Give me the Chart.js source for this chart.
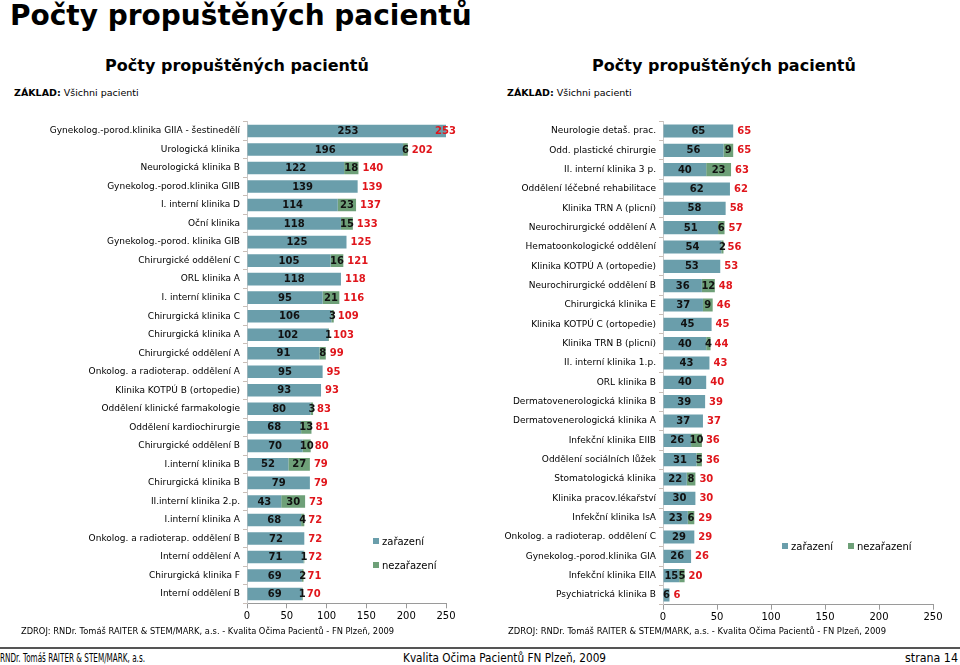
<!DOCTYPE html>
<html>
<head>
<meta charset="utf-8">
<script src="https://cdn.jsdelivr.net/npm/chart.js@4.4.0/dist/chart.umd.min.js"></script>
<style>
body { margin: 0; width: 960px; height: 665px; position: relative; background: #fff; overflow: hidden;
       font-family: "DejaVu Sans", Verdana, sans-serif; color: #000; }
.t { position: absolute; white-space: nowrap; line-height: 1; }
.fit { transform-origin: 0 50%; }
canvas { position: absolute; }
.sw { display: inline-block; width: 6px; height: 6px; margin-right: 3px; vertical-align: 1px; }
</style>
</head>
<body>

<div class="t" style="left:10px;top:2px;font-size:28px;font-weight:bold;">Počty propuštěných pacientů</div>

<div class="t" style="left:237px;top:58px;font-size:16px;font-weight:bold;transform:translateX(-50%);">Počty propuštěných pacientů</div>
<div class="t" style="left:724px;top:58px;font-size:16px;font-weight:bold;transform:translateX(-50%);">Počty propuštěných pacientů</div>
<div class="t" style="left:14px;top:88px;font-size:9.5px;"><b>ZÁKLAD:</b> Všichni pacienti</div>
<div class="t" style="left:507px;top:88px;font-size:9.5px;"><b>ZÁKLAD:</b> Všichni pacienti</div>

<canvas id="leftChart" width="490" height="520" style="left:0;top:110px;"></canvas>
<canvas id="rightChart" width="480" height="520" style="left:480px;top:110px;"></canvas>

<div class="t" style="left:373px;top:537px;font-size:10px;"><span class="sw" style="background:#6a9eab"></span>zařazení</div>
<div class="t" style="left:373px;top:561px;font-size:10px;"><span class="sw" style="background:#6ea078"></span>nezařazení</div>
<div class="t" style="left:782px;top:542px;font-size:10px;"><span class="sw" style="background:#6a9eab"></span>zařazení</div>
<div class="t" style="left:848px;top:542px;font-size:10px;"><span class="sw" style="background:#6ea078"></span>nezařazení</div>

<div class="t fit" data-w="373" style="left:21px;top:627px;font-size:9px;">ZDROJ: RNDr. Tomáš RAITER &amp; STEM/MARK, a.s. -  Kvalita Očima Pacientů - FN Plzeň, 2009</div>
<div class="t fit" data-w="378" style="left:508px;top:627px;font-size:9px;">ZDROJ: RNDr. Tomáš RAITER &amp; STEM/MARK, a.s. -  Kvalita Očima Pacientů - FN Plzeň, 2009</div>
<div style="position:absolute;left:0;top:647px;width:960px;height:2px;background:#555;"></div>
<div class="t fit" data-w="145" style="left:0;top:652px;font-size:12px;">RNDr. Tomáš RAITER &amp; STEM/MARK, a.s.</div>
<div class="t fit" data-w="203" style="left:403px;top:652px;font-size:12px;">Kvalita Očima Pacientů FN Plzeň, 2009</div>
<div class="t fit" data-w="53" style="left:905px;top:652px;font-size:12px;">strana 14</div>

<script>
// levy graf
const leftLabels = [
    "Gynekolog.-porod.klinika GIIA - šestinedělí", "Urologická klinika", "Neurologická klinika B",
    "Gynekolog.-porod.klinika GIIB", "I. interní klinika D", "Oční klinika", "Gynekolog.-porod. klinika GIB",
    "Chirurgické oddělení C", "ORL klinika A", "I. interní klinika C", "Chirurgická klinika C",
    "Chirurgická klinika A", "Chirurgické oddělení A", "Onkolog. a radioterap. oddělení A",
    "Klinika KOTPÚ B (ortopedie)", "Oddělení klinické farmakologie", "Oddělení kardiochirurgie",
    "Chirurgické oddělení B", "I.interní klinika B", "Chirurgická klinika B", "II.interní klinika 2.p.",
    "I.interní klinika A", "Onkolog. a radioterap. oddělení B", "Interní oddělení A",
    "Chirurgická klinika F", "Interní oddělení B"
];
const leftZarazeni   = [253, 196, 122, 139, 114, 118, 125, 105, 118, 95, 106, 102, 91, 95, 93, 80, 68, 70, 52, 79, 43, 68, 72, 71, 69, 69];
const leftNezarazeni = [0, 6, 18, 0, 23, 15, 0, 16, 0, 21, 3, 1, 8, 0, 0, 3, 13, 10, 27, 0, 30, 4, 0, 1, 2, 1];

// pravy graf
const rightLabels = [
    "Neurologie detaš. prac.", "Odd. plastické chirurgie", "II. interní klinika 3 p.",
    "Oddělení léčebné rehabilitace", "Klinika TRN A (plicní)", "Neurochirurgické oddělení A",
    "Hematoonkologické oddělení", "Klinika KOTPÚ A (ortopedie)", "Neurochirurgické oddělení B",
    "Chirurgická klinika E", "Klinika KOTPÚ C (ortopedie)", "Klinika TRN B (plicní)",
    "II. interní klinika 1.p.", "ORL klinika B", "Dermatovenerologická klinika B",
    "Dermatovenerologická klinika A", "Infekční klinika EIIB", "Oddělení sociálních lůžek",
    "Stomatologická klinika", "Klinika pracov.lékařství", "Infekční klinika IsA",
    "Onkolog. a radioterap. oddělení C", "Gynekolog.-porod.klinika GIA", "Infekční klinika EIIA",
    "Psychiatrická klinika B"
];
const rightZarazeni   = [65, 56, 40, 62, 58, 51, 54, 53, 36, 37, 45, 40, 43, 40, 39, 37, 26, 31, 22, 30, 23, 29, 26, 15, 6];
const rightNezarazeni = [0, 9, 23, 0, 0, 6, 2, 0, 12, 9, 0, 4, 0, 0, 0, 0, 10, 5, 8, 0, 6, 0, 0, 5, 0];

const xTicks = [0, 50, 100, 150, 200, 250];

const colZarazeni = '#6a9eab';
const colNezarazeni = '#6ea078';

// popisky hodnot + soucty cervene
const valueLabels = {
    id: 'valueLabels',
    afterDatasetsDraw(chart) {
        let ctx = chart.ctx;
        let area = chart.chartArea;
        let sets = chart.data.datasets;
        ctx.save();
        ctx.font = 'bold 10px "DejaVu Sans"';
        ctx.textBaseline = 'middle';
        sets.forEach((ds, di) => {
            chart.getDatasetMeta(di).data.forEach((bar, i) => {
                if (!ds.data[i]) return;
                ctx.fillStyle = '#111';
                ctx.textAlign = 'center';
                ctx.fillText(ds.data[i], (bar.x + bar.base) / 2, bar.y + 0.5);
            });
        });
        chart.getDatasetMeta(1).data.forEach((bar, i) => {
            let total = sets[0].data[i] + sets[1].data[i];
            ctx.fillStyle = '#e0161c';
            ctx.textAlign = 'left';
            ctx.fillText(total, Math.min(bar.x + 4, area.right - 11), bar.y + 0.5);
        });
        ctx.restore();
    }
};

function makeChart(id, labels, zar, nezar, opt) {
    return new Chart(document.getElementById(id), {
        type: 'bar',
        data: {
            labels: labels,
            datasets: [
                { label: 'zařazení', data: zar, backgroundColor: colZarazeni },
                { label: 'nezařazení', data: nezar, backgroundColor: colNezarazeni }
            ]
        },
        options: {
            indexAxis: 'y',
            responsive: false,
            animation: false,
            events: [],
            layout: { padding: { top: opt.top, right: opt.right, left: 0, bottom: 0 } },
            datasets: { bar: { categoryPercentage: 1, barPercentage: 0.68 } },
            plugins: { legend: { display: false }, tooltip: { enabled: false } },
            scales: {
                x: {
                    stacked: true, min: 0, max: 250,
                    afterBuildTicks: (s) => { s.ticks = xTicks.map(v => ({ value: v })); },
                    afterFit: (s) => { s.height = opt.xHeight; },
                    grid: { drawOnChartArea: false, drawTicks: true, tickLength: 5, color: '#9a9a9a' },
                    border: { display: true, color: '#9a9a9a' },
                    ticks: { color: '#000', padding: 2, font: { family: 'DejaVu Sans', size: 10 } }
                },
                y: {
                    stacked: true,
                    afterFit: (s) => { s.width = opt.yWidth; },
                    grid: { drawOnChartArea: false, drawTicks: true, tickLength: 4, color: '#c9bdb6' },
                    border: { display: true, color: '#c9c9c9' },
                    ticks: { color: '#000', padding: 3, autoSkip: false, font: { family: 'DejaVu Sans', size: 9 } }
                }
            }
        },
        plugins: [valueLabels]
    });
}

makeChart('leftChart', leftLabels, leftZarazeni, leftNezarazeni,
    { top: 11.7, right: 44, xHeight: 26.7, yWidth: 247 });
makeChart('rightChart', rightLabels, rightZarazeni, rightNezarazeni,
    { top: 11.3, right: 27, xHeight: 25.3, yWidth: 183 });

// zuzeni textu v paticce na sirku z predlohy
document.querySelectorAll('.fit').forEach(function(el) {
    let w = el.getBoundingClientRect().width;
    el.style.transform = 'scaleX(' + (parseFloat(el.dataset.w) / w) + ')';
});
</script>
</body>
</html>
